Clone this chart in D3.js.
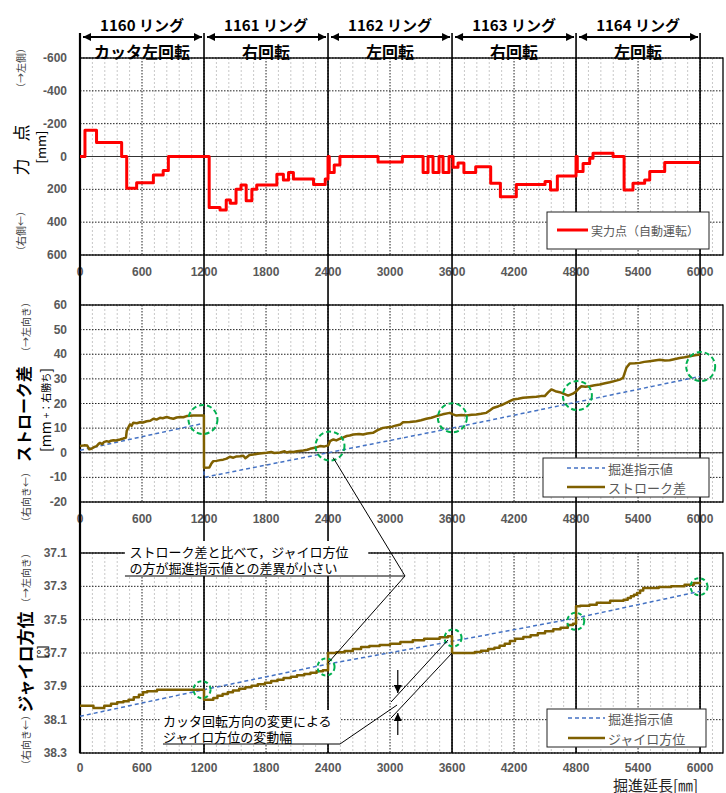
<!DOCTYPE html>
<html>
<head>
<meta charset="utf-8">
<script src="https://cdn.jsdelivr.net/npm/d3@7"></script>
<style>
  body { margin: 0; background: #fff; }
</style>
</head>
<body>
<script>
// ---- data ----
const xTicks = [0, 600, 1200, 1800, 2400, 3000, 3600, 4200, 4800, 5400, 6000];
const ringBounds = [0, 1200, 2400, 3600, 4800, 6000];
const ringNames = ["1160 リング", "1161 リング", "1162 リング", "1163 リング", "1164 リング"];
const ringRotation = ["カッタ左回転", "右回転", "左回転", "右回転", "左回転"];

const forceTicks = [-600, -400, -200, 0, 200, 400, 600];
const strokeTicks = [60, 50, 40, 30, 20, 10, 0, -10, -20];
const gyroTicks = [37.1, 37.3, 37.5, 37.7, 37.9, 38.1, 38.3];

// 実力点（自動運転） [掘進延長, 値]
const forcePts = [[0,0],[48,-160],[160,-86],[403,0],[452,194],[548,160],[710,113],[805,86],[855,0],
  [1250,310],[1355,326],[1415,265],[1455,285],[1510,200],[1558,174],[1608,269],[1663,200],[1710,174],
  [1905,108],[1968,143],[2018,98],[2065,137],[2260,170],[2373,137],[2400,0],[2412,98],[2460,52],[2515,0],
  [2884,33],[3119,0],[3320,98],[3368,0],[3416,98],[3474,0],[3513,98],[3571,0],[3610,66],[3658,40],
  [3715,98],[3829,62],[3974,163],[4068,245],[4222,170],[4500,153],[4553,204],[4619,119],[4800,0],
  [4812,92],[4868,42],[4932,11],[4964,-20],[5158,0],[5265,204],[5351,163],[5464,143],[5513,92],
  [5658,36],[6000,36]];

// ストローク差
const strokePts = [[0,2.7],[40,3.0],[70,2.9],[90,1.4],[110,1.6],[140,2.4],[161,2.7],[180,3.6],[194,4.0],
  [215,3.5],[230,4.3],[258,4.7],[280,4.4],[300,4.9],[323,5.1],[350,5.0],[387,5.4],[420,5.8],[445,6.2],
  [452,8.8],[470,10.5],[484,11.5],[500,11.0],[516,12.2],[550,12.0],[581,12.4],[610,12.3],[645,12.8],
  [680,13.0],[710,13.8],[740,13.5],[774,14.2],[800,14.0],[839,14.5],[870,14.1],[903,13.8],[935,14.3],
  [968,14.5],[1000,14.4],[1032,14.9],[1070,15.0],[1097,15.1],[1150,15.1],[1199,15.1],[1200,-6.1],
  [1252,-6.0],[1270,-4.5],[1290,-3.4],[1320,-3.3],[1355,-3.0],[1385,-2.8],[1419,-2.4],[1450,-1.6],
  [1484,-2.0],[1515,-1.5],[1548,-1.4],[1580,-1.2],[1600,-2.2],[1613,-1.8],[1640,-0.9],[1677,-0.7],
  [1720,-0.4],[1760,-0.2],[1806,0.0],[1850,0.3],[1880,-0.1],[1935,0.1],[1980,0.6],[2000,0.1],
  [2030,0.4],[2065,0.3],[2100,0.6],[2161,0.9],[2200,1.2],[2226,1.6],[2270,2.0],[2323,2.7],[2360,2.5],
  [2403,3.0],[2419,4.7],[2452,5.4],[2480,5.0],[2516,5.7],[2550,6.2],[2581,6.8],[2610,7.0],[2645,7.4],
  [2700,7.6],[2739,7.4],[2780,7.8],[2835,8.1],[2880,9.2],[2932,10.1],[2980,10.4],[3020,10.6],
  [3061,11.1],[3100,11.5],[3126,12.4],[3190,12.5],[3255,12.8],[3300,13.2],[3351,13.8],[3400,14.2],
  [3448,14.9],[3510,15.6],[3578,16.2],[3610,15.6],[3642,15.1],[3690,15.3],[3739,15.1],[3790,15.4],
  [3835,15.5],[3880,15.8],[3932,16.2],[3965,17.2],[3997,18.2],[4050,18.9],[4093,19.6],[4140,20.6],
  [4190,21.6],[4240,21.9],[4287,22.3],[4350,22.5],[4416,22.7],[4460,23.0],[4497,23.0],[4530,24.5],
  [4561,25.7],[4600,25.0],[4642,24.6],[4690,23.8],[4723,23.2],[4770,24.0],[4803,25.0],[4830,26.2],
  [4852,27.0],[4890,26.8],[4932,27.0],[4980,27.4],[5029,27.7],[5080,28.2],[5126,28.6],[5180,29.2],
  [5223,29.7],[5255,30.4],[5287,34.5],[5319,36.2],[5370,36.3],[5416,36.5],[5460,36.9],[5513,37.2],
  [5560,37.5],[5610,37.8],[5660,37.5],[5706,37.6],[5750,38.0],[5803,38.5],[5850,38.8],[5900,39.2],
  [5950,39.6],[6000,39.9]];
const strokePlan = [[0,1],[1200,12],[1200,-10],[2400,0],[3600,10],[4800,20.5],[6000,31]];
const strokeCircles = [[1190,13.5],[2419,2.7],[3603,14.2],[4813,23.2],[6006,35]];

// ジャイロ方位
const gyroPts = [[0,38.016],[130,38.03],[235,38.016],[300,38.004],[360,37.996],[420,37.99],[470,37.98],
  [520,37.965],[570,37.95],[610,37.936],[650,37.93],[745,37.92],[1200,37.98],[1290,37.97],[1330,37.956],
  [1380,37.946],[1430,37.936],[1480,37.925],[1540,37.914],[1600,37.905],[1660,37.897],[1720,37.888],
  [1790,37.878],[1850,37.868],[1910,37.86],[1970,37.85],[2040,37.842],[2100,37.834],[2170,37.826],
  [2230,37.818],[2290,37.81],[2350,37.804],[2400,37.70],[2480,37.695],[2560,37.688],[2640,37.676],
  [2720,37.664],[2800,37.658],[2900,37.652],[3000,37.644],[3100,37.634],[3220,37.624],[3330,37.614],
  [3480,37.606],[3560,37.60],[3600,37.70],[3820,37.694],[3880,37.686],[3950,37.676],[4010,37.668],
  [4060,37.656],[4110,37.644],[4160,37.628],[4210,37.614],[4290,37.604],[4360,37.594],[4430,37.582],
  [4500,37.57],[4580,37.558],[4650,37.548],[4720,37.532],[4770,37.524],[4800,37.42],[4840,37.416],
  [4930,37.41],[5000,37.398],[5130,37.386],[5260,37.38],[5300,37.37],[5330,37.36],[5360,37.35],
  [5390,37.34],[5420,37.325],[5450,37.31],[5600,37.304],[5720,37.30],[5850,37.29],[5940,37.28],
  [6000,37.276]];
const gyroPlan = [[0,38.08],[1200,37.92],[2400,37.766],[3600,37.63],[4800,37.49],[6000,37.33]];
const gyroCircles = [[1181,37.92],[2381,37.784],[3610,37.61],[4797,37.51],[5990,37.302]];

// ---- layout ----
const W = 726, H = 793;
const JP = "'Noto Sans CJK JP', sans-serif";
const NUM = "'Liberation Sans', Arial, sans-serif";
const BROWN = "#7f6000", BLUE = "#4472c4", GREEN = "#00b050", RED = "#ff0000";

const x = d3.scaleLinear().domain([0, 6222]).range([80, 723]);
const yForce = d3.scaleLinear().domain([-600, 600]).range([58, 255]);
const yStroke = d3.scaleLinear().domain([-20, 60]).range([502, 305]);
const yGyro = d3.scaleLinear().domain([37.1, 38.3]).range([553, 753]);

const svg = d3.select("body").append("svg")
  .attr("width", W).attr("height", H)
  .style("background", "#fff");

const defs = svg.append("defs");
defs.append("marker")
  .attr("id", "tri")
  .attr("viewBox", "0 0 10 10")
  .attr("refX", 10).attr("refY", 5)
  .attr("markerWidth", 10).attr("markerHeight", 8)
  .attr("markerUnits", "userSpaceOnUse")
  .attr("orient", "auto-start-reverse")
  .append("path").attr("d", "M0,0L10,5L0,10Z").attr("fill", "#000");

function panel(y, ticks, labelY, zero, labelGap) {
  const g = svg.append("g");
  const [top, bottom] = [d3.min(y.range()), d3.max(y.range())];
  // minor vertical grid
  g.selectAll(".minor").data(d3.range(120, 6200, 120).filter(d => d % 600 !== 0))
    .enter().append("line")
    .attr("x1", d => x(d)).attr("x2", d => x(d))
    .attr("y1", top).attr("y2", bottom)
    .attr("stroke", "#c8c8c8").attr("stroke-dasharray", "2,2").attr("stroke-width", 1);
  // major vertical grid
  g.selectAll(".major").data(xTicks.filter(d => d > 0))
    .enter().append("line")
    .attr("x1", d => x(d)).attr("x2", d => x(d))
    .attr("y1", top).attr("y2", bottom)
    .attr("stroke", "#222").attr("stroke-dasharray", "1.5,1.5").attr("stroke-width", 1);
  // horizontal grid
  g.selectAll(".hgrid").data(ticks)
    .enter().append("line")
    .attr("x1", x(0)).attr("x2", x.range()[1])
    .attr("y1", d => y(d)).attr("y2", d => y(d))
    .attr("stroke", "#222").attr("stroke-dasharray", "1.5,1.5").attr("stroke-width", 1);
  if (zero) {
    g.append("line")
      .attr("x1", x(0)).attr("x2", x.range()[1])
      .attr("y1", y(0)).attr("y2", y(0))
      .attr("stroke", "#333").attr("stroke-width", 1.2);
  }
  // plot box
  g.append("rect")
    .attr("x", x(0)).attr("y", top)
    .attr("width", x.range()[1] - x(0)).attr("height", bottom - top)
    .attr("fill", "none").attr("stroke", "#000").attr("stroke-width", 1.3);
  // y tick labels
  g.selectAll(".ylab").data(ticks)
    .enter().append("text")
    .attr("x", 67).attr("y", d => y(d))
    .attr("text-anchor", "end").attr("dominant-baseline", "central")
    .style("font", `bold 12px ${NUM}`).attr("fill", "#595959")
    .text(d => labelY(d));
  // x tick labels
  g.selectAll(".xlab").data(xTicks)
    .enter().append("text")
    .attr("x", d => x(d)).attr("y", bottom + labelGap)
    .attr("text-anchor", "middle").attr("dominant-baseline", "central")
    .style("font", `bold 12px ${NUM}`).attr("fill", "#595959")
    .text(d => d);
  return g;
}

panel(yForce, forceTicks, d => d, true, 17);
panel(yStroke, strokeTicks, d => d, true, 17);
panel(yGyro, gyroTicks, d => d.toFixed(1), false, 15);

// ring boundary lines through all panels
svg.selectAll(".ring").data(ringBounds)
  .enter().append("line")
  .attr("x1", d => x(d)).attr("x2", d => x(d))
  .attr("y1", 33).attr("y2", 753)
  .attr("stroke", "#000").attr("stroke-width", d => d === 0 ? 2.2 : 1.6);

// ring header
const rings = ringNames.map((n, i) => ({ name: n, rot: ringRotation[i], a: ringBounds[i], b: ringBounds[i + 1] }));
const hdr = svg.selectAll(".hdr").data(rings).enter().append("g");
hdr.append("text")
  .attr("x", d => (x(d.a) + x(d.b)) / 2).attr("y", 24)
  .attr("text-anchor", "middle").attr("dominant-baseline", "central")
  .style("font", `bold 15px ${JP}`).attr("fill", "#000")
  .text(d => d.name);
hdr.append("line")
  .attr("x1", d => x(d.a) + 3).attr("x2", d => x(d.b) - 2)
  .attr("y1", 37).attr("y2", 37)
  .attr("stroke", "#000").attr("stroke-width", 2)
  .attr("marker-start", "url(#tri)").attr("marker-end", "url(#tri)");
hdr.append("text")
  .attr("x", d => (x(d.a) + x(d.b)) / 2).attr("y", 51)
  .attr("text-anchor", "middle").attr("dominant-baseline", "central")
  .style("font", `bold 16px ${JP}`).attr("fill", "#000")
  .text(d => d.rot);

// ---- series ----
const lineOf = (y, curve) => d3.line().x(d => x(d[0])).y(d => y(d[1])).curve(curve || d3.curveLinear);

svg.append("path").datum(forcePts)
  .attr("d", lineOf(yForce, d3.curveStepAfter))
  .attr("fill", "none").attr("stroke", RED).attr("stroke-width", 3).attr("stroke-linejoin", "round");

svg.append("path").datum(strokePlan)
  .attr("d", lineOf(yStroke))
  .attr("fill", "none").attr("stroke", BLUE).attr("stroke-width", 1.5).attr("stroke-dasharray", "4,3");
svg.append("path").datum(strokePts)
  .attr("d", lineOf(yStroke))
  .attr("fill", "none").attr("stroke", BROWN).attr("stroke-width", 2.5).attr("stroke-linejoin", "round");
svg.selectAll(".sc").data(strokeCircles).enter().append("circle")
  .attr("cx", d => x(d[0])).attr("cy", d => yStroke(d[1])).attr("r", 14.5)
  .attr("fill", "none").attr("stroke", GREEN).attr("stroke-width", 2).attr("stroke-dasharray", "5,3");

svg.append("path").datum(gyroPlan)
  .attr("d", lineOf(yGyro))
  .attr("fill", "none").attr("stroke", BLUE).attr("stroke-width", 1.5).attr("stroke-dasharray", "4,3");
svg.append("path").datum(gyroPts)
  .attr("d", lineOf(yGyro, d3.curveStepAfter))
  .attr("fill", "none").attr("stroke", BROWN).attr("stroke-width", 2.5).attr("stroke-linejoin", "round");
svg.selectAll(".gc").data(gyroCircles).enter().append("circle")
  .attr("cx", d => x(d[0])).attr("cy", d => yGyro(d[1])).attr("r", 8.5)
  .attr("fill", "none").attr("stroke", GREEN).attr("stroke-width", 2).attr("stroke-dasharray", "4,3");

// ---- annotations ----
const ann = svg.append("g");
function note(tx, ty, lines) {
  const t = ann.append("text").attr("x", tx).attr("y", ty)
    .attr("dominant-baseline", "central").style("font", `13px ${JP}`).attr("fill", "#000");
  lines.forEach((s, i) => t.append("tspan").attr("x", tx).attr("dy", i ? 15.5 : 0).text(s));
}
// text box 1
ann.append("rect").attr("x", x(435)).attr("y", 541)
  .attr("width", x(2790) - x(435)).attr("height", yGyro(37.238) - 541).attr("fill", "#fff");
note(x(480), 551, ["ストローク差と比べて，ジャイロ方位", "の方が掘進指示値との差異が小さい"]);
const elbow = [x(3145), yGyro(37.238)];
ann.append("polyline")
  .attr("points", [[x(435), elbow[1]], elbow, [x(2450), yStroke(-2)]].map(p => p.join(",")).join(" "))
  .attr("fill", "none").attr("stroke", "#000").attr("stroke-width", 1);
ann.append("line")
  .attr("x1", elbow[0]).attr("y1", elbow[1]).attr("x2", x(2400)).attr("y2", yGyro(37.76))
  .attr("stroke", "#000").attr("stroke-width", 1);

// text box 2
ann.append("rect").attr("x", x(780)).attr("y", 710)
  .attr("width", x(2516) - x(780)).attr("height", yGyro(38.246) - 710).attr("fill", "#fff");
note(x(803), 720, ["カッタ回転方向の変更による", "ジャイロ方位の変動幅"]);
ann.append("polyline")
  .attr("points", [[x(803), yGyro(38.246)], [x(2516), yGyro(38.246)], [x(3068), yGyro(38.012)]].map(p => p.join(",")).join(" "))
  .attr("fill", "none").attr("stroke", "#000").attr("stroke-width", 1);
// extension lines for the variation width
ann.append("line").attr("x1", x(3561)).attr("y1", yGyro(37.622)).attr("x2", x(3010)).attr("y2", yGyro(37.994))
  .attr("stroke", "#000").attr("stroke-width", 1);
ann.append("line").attr("x1", x(3600)).attr("y1", yGyro(37.70)).attr("x2", x(3010)).attr("y2", yGyro(38.09))
  .attr("stroke", "#000").attr("stroke-width", 1);
// dimension arrows
const ax = x(3075);
ann.append("line").attr("x1", ax).attr("x2", ax).attr("y1", yGyro(37.802)).attr("y2", yGyro(37.94))
  .attr("stroke", "#000").attr("stroke-width", 1.2).attr("marker-end", "url(#tri)");
ann.append("line").attr("x1", ax).attr("x2", ax).attr("y1", yGyro(38.192)).attr("y2", yGyro(38.06))
  .attr("stroke", "#000").attr("stroke-width", 1.2).attr("marker-end", "url(#tri)");

// ---- legends ----
function legend(bx, by, bw, bh, items) {
  const g = svg.append("g");
  g.append("rect").attr("x", bx).attr("y", by).attr("width", bw).attr("height", bh)
    .attr("fill", "#fff").attr("stroke", "#222").attr("stroke-width", 1);
  items.forEach(it => {
    g.append("line").attr("x1", it.x1).attr("x2", it.x2).attr("y1", it.y).attr("y2", it.y)
      .attr("stroke", it.color).attr("stroke-width", it.w).attr("stroke-dasharray", it.dash || null);
    g.append("text").attr("x", it.x2 + 3).attr("y", it.y)
      .attr("dominant-baseline", "central").style("font", `${it.fs}px ${JP}`).attr("fill", "#595959")
      .text(it.label);
  });
}
legend(547, 212, 162, 37, [{ x1: 557, x2: 588, y: 230, color: RED, w: 3, label: "実力点（自動運転）", fs: 12 }]);
legend(543, 458, 166, 39, [
  { x1: 567, x2: 605, y: 468, color: BLUE, w: 1.5, dash: "4,3", label: "掘進指示値", fs: 13 },
  { x1: 567, x2: 605, y: 487, color: BROWN, w: 2.5, label: "ストローク差", fs: 13 }]);
legend(547, 709, 159, 38, [
  { x1: 568, x2: 605, y: 718, color: BLUE, w: 1.5, dash: "4,3", label: "掘進指示値", fs: 13 },
  { x1: 568, x2: 605, y: 738, color: BROWN, w: 2.5, label: "ジャイロ方位", fs: 13 }]);

// ---- axis titles ----
function vtext(cx, cy, txt, font, fill) {
  return svg.append("text")
    .attr("transform", `translate(${cx},${cy}) rotate(-90)`)
    .attr("text-anchor", "middle").attr("dominant-baseline", "central")
    .style("font", font).attr("fill", fill || "#000")
    .text(txt);
}
vtext(20, 150, "力　点", `17px ${JP}`);
vtext(40, 147, "[mm]", `13px ${JP}`);
vtext(20, 68, "（→左側）", `10px ${JP}`, "#404040");
vtext(20, 231, "（右側←）", `10px ${JP}`, "#404040");

vtext(23, 414, "ストローク差", `bold 16px ${JP}`);
const mmLab = vtext(45, 410, "", `14px ${JP}`);
mmLab.append("tspan").text("[mm ");
mmLab.append("tspan").style("font-size", "10px").text("+：右勝ち");
mmLab.append("tspan").text("]");
vtext(25, 327, "（→左向き）", `10px ${JP}`, "#404040");
vtext(25, 497, "（右向き←）", `10px ${JP}`, "#404040");

vtext(24, 662, "ジャイロ方位", `bold 17px ${JP}`);
vtext(41, 652, "[°]", `13px ${JP}`);
vtext(25, 578, "（→左向き）", `10px ${JP}`, "#404040");
vtext(25, 740, "（右向き←）", `10px ${JP}`, "#404040");

svg.append("text").attr("x", 613).attr("y", 784)
  .attr("dominant-baseline", "central").style("font", `15px ${JP}`).attr("fill", "#262626")
  .text("掘進延長[㎜]");
</script>
</body>
</html>
